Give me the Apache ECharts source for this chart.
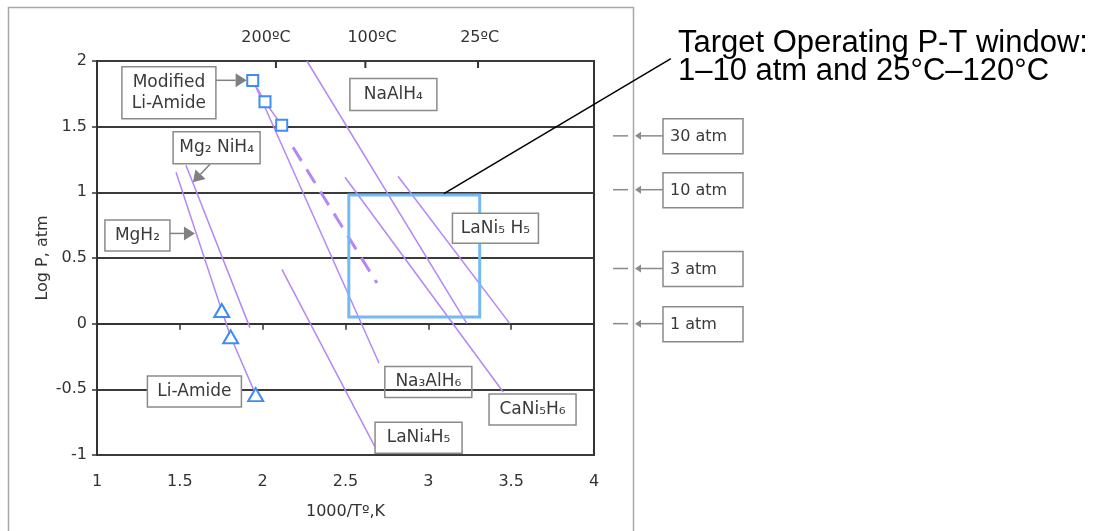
<!DOCTYPE html>
<html><head><meta charset="utf-8">
<script src="https://cdn.jsdelivr.net/npm/echarts@6/dist/echarts.min.js"></script>
<style>html,body{margin:0;padding:0;background:#fff}#c{width:1106px;height:531px}</style>
</head><body><div id="c"></div>
<script>
// ---------- data ----------
const xTicks = [1, 1.5, 2, 2.5, 3, 3.5, 4];
const yTicks = [-1, -0.5, 0, 0.5, 1, 1.5, 2];
const tempTickX = [2.08, 2.62, 3.30];
const tempLabels = ['200ºC', '100ºC', '25ºC'];
const tempLabelX = [2.02, 2.66, 3.31];

const mgH2 = [[1.477, 1.153], [1.754, 0.096]];
const mg2NiH4 = [[1.537, 1.206], [1.923, -0.03]];
const na3AlH6 = [[1.941, 1.853], [2.702, -0.300]];
const modLiAmide = [[1.940, 1.851], [2.014, 1.690], [2.115, 1.510]];
const modLiAmideExtrap = [[2.183, 1.343], [2.690, 0.309]];
const naAlH4 = [[2.267, 2.0], [3.233, 0.0]];
const caNi5H6 = [[2.497, 1.115], [3.452, -0.52]];
const laNi5H5 = [[2.817, 1.122], [3.492, 0.0]];
const laNi4H5 = [[2.116, 0.413], [2.678, -0.938]];
const liAmide = [[1.753, 0.10], [1.807, -0.10], [1.958, -0.54]];
const targetWindow = [[2.52, 0.98], [3.31, 0.05]];

const labelNames = ['Modified\nLi-Amide', 'Mg₂ NiH₄', 'MgH₂', 'Li-Amide', 'NaAlH₄', 'LaNi₅ H₅', 'Na₃AlH₆', 'CaNi₅H₆', 'LaNi₄H₅'];
const labelAnchors = [[1.434, 1.758], [1.722, 1.340], [1.244, 0.671], [1.588, -0.516], [2.789, 1.745], [3.405, 0.726], [3.0, -0.444], [3.629, -0.654], [2.941, -0.869]];
const arrowFrom = [[1.718, 1.853], [1.441, 0.687], [1.682, 1.214]];
const arrowTo = [[1.903, 1.853], [1.591, 0.687], [1.579, 1.077]];

const atmLabels = ['30 atm', '10 atm', '3 atm', '1 atm'];
const atmLogP = [1.43, 1.02, 0.42, 0.0];

const calloutText = 'Target Operating P-T window:\n1–10 atm and 25°C–120°C';
const calloutAnchor = [3.094, 0.99];

// ---------- styles ----------
const labelW = [94, 87, 65, 94, 87, 86, 87, 87, 87];
const labelH = [52, 32, 31, 31, 32, 30, 31, 31, 31];
const labelFill = ['#fff', '#fff', '#fff', '#fff', '#fff', '#fff', 'rgba(0,0,0,0)', '#fff', '#fff'];
const PURPLE = '#b487f6';
const BLUE = '#3f8cf3';
const DARK = '#333';
const FONT = '"DejaVu Sans", sans-serif';

const chart = echarts.init(document.getElementById('c'), null, {renderer: 'canvas'});

function lineSeries(name, data, extra) {
  return Object.assign({
    name, type: 'line', data, showSymbol: false, symbol: 'none', silent: true,
    lineStyle: {color: PURPLE, width: 1.5}, z: 3, animation: false
  }, extra || {});
}

function arrowShapes(p1, p2, color, headLen, headHalf) {
  const dx = p2[0] - p1[0], dy = p2[1] - p1[1];
  const L = Math.sqrt(dx * dx + dy * dy) || 1;
  const ux = dx / L, uy = dy / L;
  const bx = p2[0] - ux * headLen, by = p2[1] - uy * headLen;
  const nx = -uy * headHalf, ny = ux * headHalf;
  return [
    {type: 'line', shape: {x1: p1[0], y1: p1[1], x2: bx, y2: by}, style: {stroke: color, lineWidth: 1.5}},
    {type: 'polygon', shape: {points: [[p2[0], p2[1]], [bx + nx, by + ny], [bx - nx, by - ny]]}, style: {fill: color}}
  ];
}

const option = {
  animation: false,
  backgroundColor: '#fff',
  grid: {left: 97, right: 512, top: 61, bottom: 76, show: true, borderColor: DARK, borderWidth: 2, containLabel: false},
  graphic: [
    {type: 'rect', shape: {x: 8.5, y: 7.5, width: 625, height: 600}, style: {fill: 'none', stroke: '#a8a8a8', lineWidth: 1.5}, z: 0}
  ],
  xAxis: [
    {
      type: 'value', min: xTicks[0], max: xTicks[xTicks.length - 1], interval: 0.5, position: 'bottom',
      axisLine: {show: false, onZero: false},
      axisTick: {show: false},
      splitLine: {show: false},
      axisLabel: {margin: 19, color: DARK, fontSize: 16, fontFamily: FONT},
      name: '1000/Tº,K', nameLocation: 'middle', nameGap: 49,
      nameTextStyle: {color: DARK, fontSize: 16, fontFamily: FONT}
    },
    {
      type: 'value', min: xTicks[0], max: xTicks[xTicks.length - 1], interval: 0.5, position: 'bottom',
      axisLine: {show: true, onZero: true, lineStyle: {color: DARK, width: 2}},
      axisTick: {show: true, inside: false, length: 6, lineStyle: {color: DARK, width: 1.5}},
      axisLabel: {show: false},
      splitLine: {show: false}
    }
  ],
  yAxis: {
    type: 'value', min: yTicks[0], max: yTicks[yTicks.length - 1], interval: 0.5, position: 'left',
    axisLine: {show: true, onZero: false, lineStyle: {color: DARK, width: 2}},
    axisTick: {show: true, inside: false, length: 5, lineStyle: {color: DARK, width: 1.5}},
    axisLabel: {margin: 10, color: DARK, fontSize: 16, fontFamily: FONT},
    splitLine: {show: true, lineStyle: {color: '#3a3a3a', width: 2}},
    name: 'Log P, atm', nameLocation: 'middle', nameGap: 46,
    nameTextStyle: {color: DARK, fontSize: 16, fontFamily: FONT}
  },
  series: [
    lineSeries('MgH2', mgH2),
    lineSeries('Mg2NiH4', mg2NiH4),
    lineSeries('Na3AlH6', na3AlH6),
    lineSeries('NaAlH4', naAlH4),
    lineSeries('CaNi5H6', caNi5H6),
    lineSeries('LaNi5H5', laNi5H5),
    lineSeries('LaNi4H5', laNi4H5),
    lineSeries('Modified Li-Amide (extrapolated)', modLiAmideExtrap, {lineStyle: {color: PURPLE, width: 3, type: [16, 10]}}),
    {
      type: 'custom', name: 'Target window', coordinateSystem: 'cartesian2d', silent: true, clip: false, z: 4,
      data: [[targetWindow[0][0], targetWindow[0][1], targetWindow[1][0], targetWindow[1][1]]],
      encode: {x: [0, 2], y: [1, 3]},
      renderItem: function (params, api) {
        const a = api.coord([api.value(0), api.value(1)]);
        const b = api.coord([api.value(2), api.value(3)]);
        return {type: 'rect', shape: {x: a[0], y: a[1], width: b[0] - a[0], height: b[1] - a[1]},
          style: {fill: 'none', stroke: '#74b9f6', lineWidth: 3}};
      }
    },
    lineSeries('Modified Li-Amide', modLiAmide, {
      showSymbol: true, symbol: 'rect', symbolSize: 11, z: 5,
      itemStyle: {color: '#fff', borderColor: BLUE, borderWidth: 2}
    }),
    lineSeries('Li-Amide', liAmide, {
      showSymbol: true, symbol: 'triangle', symbolSize: [15, 13], z: 5,
      itemStyle: {color: '#fff', borderColor: BLUE, borderWidth: 2}
    }),
    {
      type: 'custom', name: 'Temperature ticks', coordinateSystem: 'cartesian2d', silent: true, clip: false, z: 6,
      data: tempTickX.map((x, i) => [x, yTicks[yTicks.length - 1], i, tempLabelX[i]]),
      renderItem: function (params, api) {
        const i = api.value(2);
        const p = api.coord([api.value(0), api.value(1)]);
        const q = api.coord([api.value(3), api.value(1)]);
        return {type: 'group', children: [
          {type: 'line', shape: {x1: p[0], y1: p[1], x2: p[0], y2: p[1] + 7}, style: {stroke: DARK, lineWidth: 2}},
          {type: 'text', style: {legacy: false, text: tempLabels[i], x: q[0], y: p[1] - 23, align: 'center', verticalAlign: 'middle',
            font: '16px ' + FONT, fill: DARK}}
        ]};
      }
    },
    {
      type: 'custom', name: 'Labels', coordinateSystem: 'cartesian2d', silent: true, clip: false, z: 7,
      data: labelAnchors.map((a, i) => [a[0], a[1], i]),
      renderItem: function (params, api) {
        const i = api.value(2);
        const p = api.coord([api.value(0), api.value(1)]);
        const w = labelW[i], h = labelH[i];
        return {type: 'group', children: [
          {type: 'rect', shape: {x: p[0] - w / 2, y: p[1] - h / 2, width: w, height: h},
            style: {fill: labelFill[i], stroke: '#8a8a8a', lineWidth: 1.5}},
          {type: 'text', style: {legacy: false, text: labelNames[i], x: p[0], y: p[1], align: 'center', verticalAlign: 'middle',
            font: '17px ' + FONT, fill: '#3a3a3a', lineHeight: 21}}
        ]};
      }
    },
    {
      type: 'custom', name: 'Arrows', coordinateSystem: 'cartesian2d', silent: true, clip: false, z: 7,
      data: arrowFrom.map((a, i) => [a[0], a[1], arrowTo[i][0], arrowTo[i][1]]),
      encode: {x: [0, 2], y: [1, 3]},
      renderItem: function (params, api) {
        const p1 = api.coord([api.value(0), api.value(1)]);
        const p2 = api.coord([api.value(2), api.value(3)]);
        return {type: 'group', children: arrowShapes(p1, p2, '#808080', 11, 7)};
      }
    },
    {
      type: 'custom', name: 'Pressure marks', coordinateSystem: 'cartesian2d', silent: true, clip: false, z: 7,
      data: atmLogP.map((v, i) => [xTicks[xTicks.length - 1], v, i]),
      renderItem: function (params, api) {
        const i = api.value(2);
        const p = api.coord([api.value(0), api.value(1)]);
        const x0 = p[0], y = p[1];
        const children = [
          {type: 'line', shape: {x1: x0 + 19, y1: y, x2: x0 + 34, y2: y}, style: {stroke: '#8a8a8a', lineWidth: 1.5}},
          {type: 'rect', shape: {x: x0 + 69, y: y - 17, width: 80, height: 35}, style: {fill: '#fff', stroke: '#8a8a8a', lineWidth: 1.5}},
          {type: 'text', style: {legacy: false, text: atmLabels[i], x: x0 + 76, y: y + 1, align: 'left', verticalAlign: 'middle',
            font: '16px ' + FONT, fill: '#3a3a3a'}}
        ].concat(arrowShapes([x0 + 69, y], [x0 + 41, y], '#8a8a8a', 6, 4));
        return {type: 'group', children};
      }
    },
    {
      type: 'custom', name: 'Callout', coordinateSystem: 'cartesian2d', silent: true, clip: false, z: 8,
      data: [calloutAnchor],
      renderItem: function (params, api) {
        const p = api.coord([api.value(0), api.value(1)]);
        return {type: 'group', children: [
          {type: 'line', shape: {x1: p[0], y1: p[1], x2: p[0] + 227, y2: p[1] - 135}, style: {stroke: '#000', lineWidth: 1.5}},
          {type: 'text', style: {legacy: false, text: calloutText, x: p[0] + 234, y: p[1] - 164, align: 'left', verticalAlign: 'top',
            font: '31px "Liberation Sans", Arial, sans-serif', fill: '#000', lineHeight: 28}}
        ]};
      }
    }
  ]
};
chart.setOption(option);
</script>
</body></html>
